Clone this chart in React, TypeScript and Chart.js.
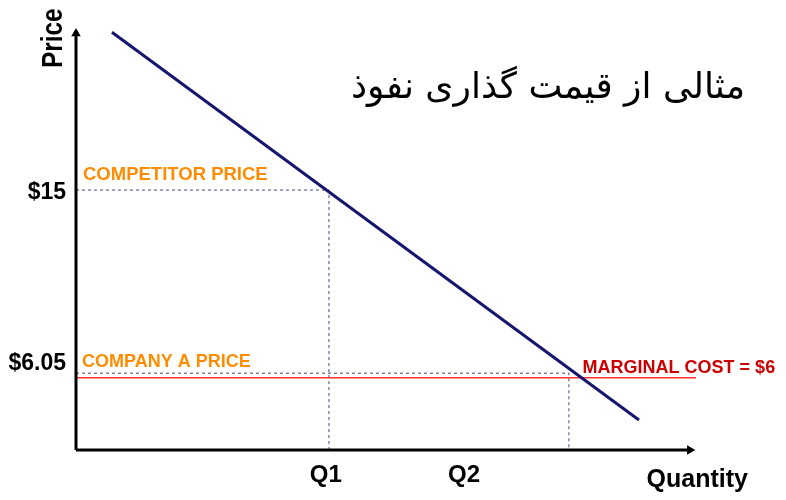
import React, { useEffect, useRef } from "react";
import { Chart, registerables } from "chart.js";

Chart.register(...registerables);

// ---- data (schematic units: quantity 0..10, price-axis 0..10) ----
const demandQty = [0.58, 9.08];
const demandPrice = [9.9, 0.71];
const competitorPrice = 6.16;
const q1 = 4.08;
const companyPrice = 1.82;
const q2 = 7.95;
const marginalCost = 1.71;
const mcQtyEnd = 10;
const axisEndQty = 9.9;
const axisEndPrice = 9.87;
const priceTickValues = [6.11, 2.04];
const priceTickLabels = ["$15", "$6.05"];
const qtyTickValues = [4.03, 6.26];
const qtyTickLabels = ["Q1", "Q2"];
const titleText = "مثالی از قیمت گذاری نفوذ";
const competitorLabel = "COMPETITOR PRICE";
const companyLabel = "COMPANY A PRICE";
const mcLabel = "MARGINAL COST = $6";
const xTitle = "Quantity";
const yTitle = "Price";

const SANS = "'Liberation Sans', Arial, sans-serif";
const ORANGE = "#FF8C00";
const NAVY = "#16166e";
const DASH = "#3d4a78";

const textPlugin = {
  id: "texts",
  afterDraw(chart: any) {
    const { ctx, chartArea, scales } = chart;
    const xs = scales.x;
    const ys = scales.y;
    ctx.save();
    ctx.textBaseline = "alphabetic";

    // title
    ctx.fillStyle = "#000";
    ctx.font = "36px 'DejaVu Sans'";
    ctx.textAlign = "right";
    ctx.fillText(titleText, 745, 98);

    // annotations
    ctx.textAlign = "left";
    ctx.font = `bold 18.5px ${SANS}`;
    ctx.fillStyle = ORANGE;
    ctx.fillText(competitorLabel, chartArea.left + 7, ys.getPixelForValue(competitorPrice) - 10);
    ctx.font = `bold 18px ${SANS}`;
    ctx.fillText(companyLabel, chartArea.left + 6, ys.getPixelForValue(companyPrice) - 6);

    // marginal cost label at the intersection of demand and MC
    const slope = (demandPrice[1] - demandPrice[0]) / (demandQty[1] - demandQty[0]);
    const qx = demandQty[0] + (marginalCost - demandPrice[0]) / slope;
    ctx.fillStyle = "#CC0000";
    ctx.font = `bold 18px ${SANS}`;
    ctx.fillText(mcLabel, xs.getPixelForValue(qx) + 1, ys.getPixelForValue(marginalCost) - 5);

    // axis titles
    ctx.fillStyle = "#000";
    ctx.font = `bold 25px ${SANS}`;
    ctx.textAlign = "right";
    ctx.fillText(xTitle, chartArea.right + 52, chartArea.bottom + 37);

    ctx.save();
    ctx.translate(chartArea.left - 14, chartArea.top + 40);
    ctx.rotate(-Math.PI / 2);
    ctx.scale(0.84, 1);
    ctx.textAlign = "left";
    ctx.font = `bold 29px ${SANS}`;
    ctx.fillText(yTitle, 0, 0);
    ctx.restore();

    ctx.restore();
  },
};

export default function App() {
  const ref = useRef<HTMLCanvasElement | null>(null);

  useEffect(() => {
    if (!ref.current) return;
    const line = (data: any[], color: string, width: number, extra: any = {}) => ({
      type: "scatter",
      data,
      showLine: true,
      borderColor: color,
      backgroundColor: color,
      borderWidth: width,
      pointRadius: 0,
      pointHoverRadius: 0,
      clip: false,
      ...extra,
    });

    const chart = new Chart(ref.current, {
      type: "scatter",
      data: {
        datasets: [
          line(
            demandQty.map((q, i) => ({ x: q, y: demandPrice[i] })),
            NAVY,
            3,
            { order: 0 }
          ),
          line([{ x: 0, y: 0 }, { x: 0, y: axisEndPrice }], "#000", 3, {
            order: 1,
            pointRadius: [0, 5.5],
            pointStyle: "triangle",
            rotation: 0,
            pointBorderWidth: 0,
            pointBackgroundColor: "#000",
          }),
          line([{ x: 0, y: 0 }, { x: axisEndQty, y: 0 }], "#000", 3, {
            order: 1,
            pointRadius: [0, 5.5],
            pointStyle: "triangle",
            rotation: 90,
            pointBorderWidth: 0,
            pointBackgroundColor: "#000",
          }),
          line(
            [{ x: 0, y: competitorPrice }, { x: q1, y: competitorPrice }, { x: q1, y: 0 }],
            DASH,
            1,
            { order: 3, borderDash: [3, 3] }
          ),
          line(
            [{ x: 0, y: companyPrice }, { x: q2, y: companyPrice }, { x: q2, y: 0 }],
            DASH,
            1,
            { order: 3, borderDash: [3, 3] }
          ),
          line([{ x: 0, y: marginalCost }, { x: mcQtyEnd, y: marginalCost }], "#FF3030", 1.5, {
            order: 2,
          }),
        ],
      },
      options: {
        animation: false,
        responsive: true,
        maintainAspectRatio: false,
        layout: { padding: { top: 28, right: 90, left: 0, bottom: 0 } },
        plugins: { legend: { display: false }, tooltip: { enabled: false } },
        events: [],
        scales: {
          x: {
            type: "linear",
            min: 0,
            max: 10,
            grid: { display: false, drawTicks: false },
            border: { display: false },
            afterFit: (s: any) => {
              s.height = 50;
            },
            afterBuildTicks: (s: any) => {
              s.ticks = qtyTickValues.map((v) => ({ value: v }));
            },
            ticks: {
              autoSkip: false,
              maxRotation: 0,
              padding: 11,
              color: "#000",
              font: { family: SANS, size: 24, weight: "bold" },
              callback: (_v: any, i: number) => qtyTickLabels[i],
            },
          },
          y: {
            type: "linear",
            min: 0,
            max: 10,
            grid: { display: false, drawTicks: false },
            border: { display: false },
            afterFit: (s: any) => {
              s.width = 76;
            },
            afterBuildTicks: (s: any) => {
              s.ticks = priceTickValues.map((v) => ({ value: v }));
            },
            ticks: {
              autoSkip: false,
              padding: 10,
              color: "#000",
              font: { family: SANS, size: 23, weight: "bold" },
              callback: (_v: any, i: number) => priceTickLabels[i],
            },
          },
        },
      } as any,
      plugins: [textPlugin],
    } as any);
    return () => chart.destroy();
  }, []);

  return (
    <div style={{ position: "fixed", left: 0, top: 0, width: 786, height: 500, background: "#fff" }}>
      <canvas ref={ref} />
    </div>
  );
}
